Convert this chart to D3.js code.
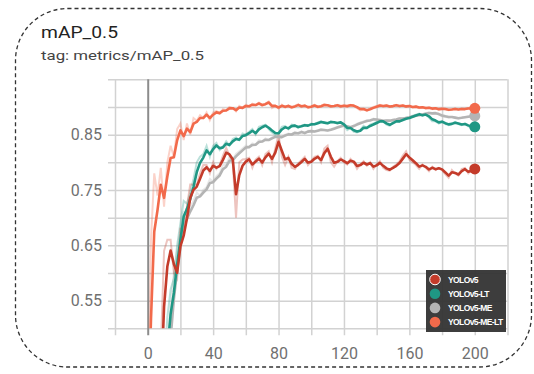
<!DOCTYPE html>
<html>
<head>
<meta charset="utf-8">
<script src="https://cdn.jsdelivr.net/npm/d3@7"></script>
<style>
  html, body { margin: 0; padding: 0; background: #fff; }
  svg { display: block; }
</style>
</head>
<body>
<div id="chart"></div>
<script>
// training steps (epochs), one point every 2 epochs
const steps = d3.range(0, 201, 2);

// raw mAP_0.5 per run
const yolov5 = [0.10,0.16,0.24,0.33,0.46,0.64,0.66,0.66,0.60,0.59,0.68,0.68,0.72,0.76,0.76,0.76,0.78,0.795,0.795,0.78,
  0.80,0.788,0.795,0.812,0.826,0.812,0.80,0.70,0.80,0.805,0.806,0.808,0.79,0.805,0.81,0.795,0.815,0.82,0.80,0.825,
  0.85,0.81,0.795,0.81,0.79,0.788,0.798,0.804,0.81,0.795,0.802,0.81,0.812,0.80,0.825,0.83,0.80,0.792,0.802,0.808,
  0.80,0.796,0.806,0.80,0.788,0.796,0.802,0.794,0.80,0.788,0.796,0.802,0.79,0.786,0.785,0.792,0.796,0.802,0.812,0.82,
  0.805,0.80,0.795,0.788,0.796,0.79,0.784,0.792,0.786,0.79,0.786,0.778,0.772,0.786,0.78,0.776,0.788,0.79,0.78,0.786,0.79];

const yolov5LT = [0.10,0.15,0.20,0.26,0.33,0.42,0.52,0.57,0.59,0.65,0.69,0.73,0.725,0.745,0.77,0.80,0.81,0.815,0.83,0.81,
  0.83,0.835,0.822,0.828,0.838,0.83,0.842,0.845,0.84,0.852,0.85,0.855,0.86,0.85,0.864,0.866,0.868,0.86,0.854,0.85,
  0.852,0.864,0.866,0.86,0.868,0.867,0.862,0.866,0.868,0.866,0.87,0.869,0.872,0.874,0.871,0.87,0.874,0.872,0.87,0.873,
  0.866,0.858,0.862,0.855,0.854,0.858,0.866,0.862,0.868,0.87,0.873,0.876,0.874,0.868,0.866,0.873,0.876,0.874,0.878,0.88,
  0.881,0.884,0.886,0.888,0.884,0.887,0.881,0.874,0.874,0.87,0.874,0.869,0.867,0.87,0.873,0.869,0.867,0.87,0.865,0.863,0.864];

const yolov5ME = [0.08,0.12,0.17,0.22,0.28,0.36,0.45,0.54,0.60,0.64,0.68,0.71,0.705,0.72,0.73,0.745,0.74,0.75,0.755,0.77,
  0.765,0.775,0.78,0.795,0.795,0.81,0.805,0.815,0.82,0.825,0.83,0.828,0.834,0.832,0.84,0.838,0.843,0.84,0.845,0.848,
  0.846,0.845,0.85,0.852,0.85,0.855,0.852,0.856,0.852,0.857,0.857,0.855,0.858,0.86,0.858,0.857,0.86,0.862,0.864,0.866,
  0.868,0.864,0.862,0.867,0.87,0.872,0.874,0.876,0.876,0.879,0.877,0.876,0.874,0.876,0.875,0.877,0.878,0.88,0.879,0.881,
  0.882,0.884,0.885,0.886,0.887,0.889,0.89,0.888,0.889,0.886,0.883,0.882,0.881,0.882,0.88,0.879,0.881,0.882,0.883,0.884,0.884];

const yolov5MELT = [0.30,0.66,0.78,0.74,0.79,0.72,0.80,0.83,0.81,0.86,0.87,0.84,0.87,0.85,0.88,0.875,0.885,0.88,0.89,0.876,
  0.89,0.893,0.888,0.896,0.894,0.90,0.898,0.892,0.902,0.898,0.904,0.901,0.906,0.903,0.908,0.902,0.906,0.91,0.898,0.902,
  0.897,0.904,0.899,0.903,0.898,0.902,0.905,0.90,0.903,0.898,0.901,0.904,0.899,0.902,0.905,0.903,0.90,0.902,0.904,0.90,
  0.903,0.901,0.904,0.902,0.898,0.894,0.896,0.893,0.897,0.90,0.902,0.904,0.901,0.903,0.90,0.902,0.904,0.901,0.903,0.90,
  0.902,0.899,0.901,0.898,0.90,0.897,0.899,0.896,0.898,0.895,0.897,0.896,0.894,0.896,0.897,0.895,0.897,0.896,0.898,0.897,0.898];

const runNames = ['YOLOv5', 'YOLOv5-LT', 'YOLOv5-ME', 'YOLOv5-ME-LT'];
const runColors = ['#c43b2a', '#1f9784', '#b4b4b4', '#f26a4b'];
const runValues = [yolov5, yolov5LT, yolov5ME, yolov5MELT];
const drawOrder = [2, 1, 0, 3];

const xTicks = d3.range(-20, 221, 20);
const xLabels = [0, 40, 80, 120, 160, 200];
const yTicks = [0.5, 0.55, 0.6, 0.65, 0.7, 0.75, 0.8, 0.85, 0.9, 0.95];
const yLabels = [0.55, 0.65, 0.75, 0.85];

const smoothing = 0.4;

const W = 534, H = 374;
const plotL = 115, plotR = 507.5, plotT = 79.3, plotB = 328.3;

// tensorboard style exponential moving average
function smooth(vals, w) {
  let last = vals[0];
  return vals.map(v => { last = last * w + (1 - w) * v; return last; });
}

const svg = d3.select('#chart').append('svg')
  .attr('width', W)
  .attr('height', H);

// dashed frame around the card
svg.append('rect')
  .attr('x', 15.5).attr('y', 8.5)
  .attr('width', 516).attr('height', 358.5)
  .attr('rx', 52).attr('ry', 52)
  .attr('fill', 'none')
  .attr('stroke', '#333')
  .attr('stroke-width', 1.3)
  .attr('stroke-dasharray', '4 3');

svg.append('text')
  .attr('x', 41).attr('y', 38)
  .attr('font-family', 'Roboto, sans-serif')
  .attr('font-size', 17)
  .attr('fill', '#222')
  .attr('textLength', 77)
  .attr('lengthAdjust', 'spacingAndGlyphs')
  .text('mAP_0.5');

svg.append('text')
  .attr('x', 41).attr('y', 60)
  .attr('font-family', 'Roboto, sans-serif')
  .attr('font-size', 13.5)
  .attr('fill', '#444')
  .attr('textLength', 163)
  .attr('lengthAdjust', 'spacingAndGlyphs')
  .text('tag: metrics/mAP_0.5');

const x = d3.scaleLinear().domain([-20, 220]).range([plotL, plotR]);
const y = d3.scaleLinear().domain([0.5, 0.95]).range([plotB, plotT]);

// grid (ticks stick out 7px past the plot)
const xAxis = svg.append('g')
  .attr('transform', `translate(0,${plotB + 7})`)
  .call(d3.axisBottom(x)
    .tickValues(xTicks)
    .tickSize(-(plotB - plotT + 7))
    .tickPadding(12)
    .tickFormat(d => xLabels.includes(d) ? d : ''));
xAxis.select('.domain').remove();
xAxis.selectAll('line')
  .attr('stroke', d => d === 0 ? '#8c8c8c' : '#d2d2d2')
  .attr('stroke-width', d => d === 0 ? 2 : 1.5);
xAxis.selectAll('text')
  .attr('font-family', 'Roboto, sans-serif')
  .attr('font-size', 16)
  .attr('fill', '#707070');

const yAxis = svg.append('g')
  .attr('transform', `translate(${plotL - 7},0)`)
  .call(d3.axisLeft(y)
    .tickValues(yTicks)
    .tickSize(-(plotR - plotL + 7))
    .tickPadding(6)
    .tickFormat(d => yLabels.some(v => Math.abs(v - d) < 1e-9) ? d3.format('.2f')(d) : ''));
yAxis.select('.domain').remove();
yAxis.selectAll('line')
  .attr('stroke', '#d2d2d2')
  .attr('stroke-width', 1.5);
yAxis.selectAll('text')
  .attr('font-family', 'Roboto, sans-serif')
  .attr('font-size', 16)
  .attr('fill', '#707070');

// keep the zero line above the horizontal grid
xAxis.raise();

svg.append('clipPath').attr('id', 'plotclip')
  .append('rect')
  .attr('x', plotL).attr('y', plotT)
  .attr('width', plotR - plotL).attr('height', plotB - plotT);

const line = d3.line()
  .x((d, i) => x(steps[i]))
  .y(d => y(d));

const plot = svg.append('g').attr('clip-path', 'url(#plotclip)');

drawOrder.forEach(k => {
  plot.append('path')
    .attr('d', line(runValues[k]))
    .attr('fill', 'none')
    .attr('stroke', runColors[k])
    .attr('stroke-opacity', 0.3)
    .attr('stroke-width', 2);
});

const smoothed = runValues.map(v => smooth(v, smoothing));

drawOrder.forEach(k => {
  plot.append('path')
    .attr('d', line(smoothed[k]))
    .attr('fill', 'none')
    .attr('stroke', runColors[k])
    .attr('stroke-width', 2.6)
    .attr('stroke-linejoin', 'round');
});

drawOrder.forEach(k => {
  const s = smoothed[k];
  svg.append('circle')
    .attr('cx', x(steps[steps.length - 1]))
    .attr('cy', y(s[s.length - 1]))
    .attr('r', 5.5)
    .attr('fill', runColors[k]);
});

// legend box
const lg = svg.append('g').attr('transform', 'translate(426,270)');
lg.append('rect')
  .attr('width', 80).attr('height', 62)
  .attr('fill', '#333')
  .attr('fill-opacity', 0.95);
const item = lg.selectAll('g.item')
  .data(runNames)
  .enter().append('g')
  .attr('class', 'item')
  .attr('transform', (d, i) => `translate(0,${9.5 + i * 14.2})`);
item.append('circle')
  .attr('cx', 9).attr('cy', 0).attr('r', 5.3)
  .attr('fill', (d, i) => runColors[i])
  .attr('stroke', (d, i) => i === 0 ? '#fff' : 'none')
  .attr('stroke-width', 1);
item.append('text')
  .attr('x', 22).attr('y', 3)
  .attr('font-family', 'Liberation Sans, Arial, sans-serif')
  .attr('font-weight', 'bold')
  .attr('font-size', 8.5)
  .attr('letter-spacing', -0.6)
  .attr('fill', '#fff')
  .text(d => d);
</script>
</body>
</html>
